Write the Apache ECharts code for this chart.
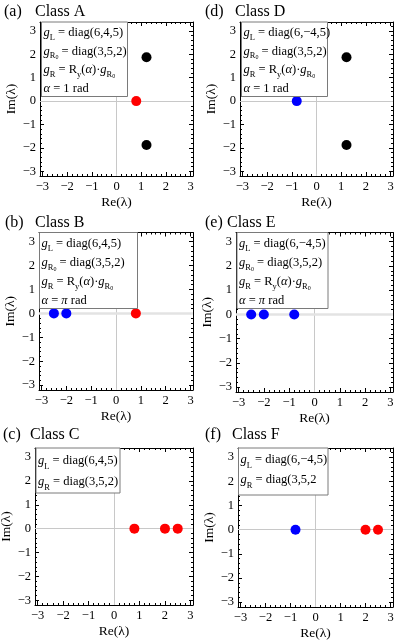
<!DOCTYPE html>
<html><head><meta charset="utf-8">
<script src="https://cdn.jsdelivr.net/npm/echarts@6/dist/echarts.min.js"></script>
<style>html,body{margin:0;padding:0;background:#fff}#c{width:399px;height:642px}</style>
</head><body><div id="c"></div>
<script>
// ---------- DATA ----------
const panelTags = ['(a)', '(b)', '(c)', '(d)', '(e)', '(f)'];
const classNames = ['Class A', 'Class B', 'Class C', 'Class D', 'Class E', 'Class F'];
const xTicks = [-3, -2, -1, 0, 1, 2, 3];
const yTicks = [-3, -2, -1, 0, 1, 2, 3];
const tickLabels = ['\u22123', '\u22122', '\u22121', '0', '1', '2', '3'];
const xLabel = 'Re(\u03bb)';
const yLabel = 'Im(\u03bb)';

// eigenvalues [Re, Im]
const aRed   = [[0.8, 0]];
const aBlack = [[1.2157, 1.8767], [1.2157, -1.8767]];
const bBlue  = [[-2.5, 0], [-2, 0]];
const bRed   = [[0.8, 0]];
const cRed   = [[0.8, 0], [2, 0], [2.5, 0]];
const dBlue  = [[-0.8, 0]];
const dBlack = [[1.2157, 1.8767], [1.2157, -1.8767]];
const eBlue  = [[-2.5, 0], [-2, 0], [-0.8, 0]];
const fBlue  = [[-0.8, 0]];
const fRed   = [[2, 0], [2.5, 0]];

// legend lines (rich text)
const legendA = ['{g|g}{s|L}{t| = diag(6,4,5)}', '{g|g}{s|R}{ss|0}{t| = diag(3,5,2)}', '{g|g}{s|R}{t| = R}{s|y}{t|(}{g|\u03b1}{t|)\u00b7}{g|g}{s|R}{ss|0}', '{g|\u03b1}{t| = 1 rad}'];
const legendB = ['{g|g}{s|L}{t| = diag(6,4,5)}', '{g|g}{s|R}{ss|0}{t| = diag(3,5,2)}', '{g|g}{s|R}{t| = R}{s|y}{t|(}{g|\u03b1}{t|)\u00b7}{g|g}{s|R}{ss|0}', '{g|\u03b1}{t| = }{g|\u03c0}{t| rad}'];
const legendC = ['{g|g}{s|L}{t| = diag(6,4,5)}', '{g|g}{s|R}{t| = diag(3,5,2)}'];
const legendD = ['{g|g}{s|L}{t| = diag(6,\u22124,5)}', '{g|g}{s|R}{ss|0}{t| = diag(3,5,2)}', '{g|g}{s|R}{t| = R}{s|y}{t|(}{g|\u03b1}{t|)\u00b7}{g|g}{s|R}{ss|0}', '{g|\u03b1}{t| = 1 rad}'];
const legendE = ['{g|g}{s|L}{t| = diag(6,\u22124,5)}', '{g|g}{s|R}{ss|0}{t| = diag(3,5,2)}', '{g|g}{s|R}{t| = R}{s|y}{t|(}{g|\u03b1}{t|)\u00b7}{g|g}{s|R}{ss|0}', '{g|\u03b1}{t| = }{g|\u03c0}{t| rad}'];
const legendF = ['{g|g}{s|L}{t| = diag(6,\u22124,5)}', '{g|g}{s|R}{t| = diag(3,5,2}'];

// ---------- LAYOUT ----------
const X_MIN = -3.1, X_MAX = 3.1, Y_MIN = -3.2, Y_MAX = 3.38;
const RED = '#ff0000', BLUE = '#0000ff', BLACK = '#000000';
const panels = [
  {col: 0, grid: {left: 40, top: 22, width: 153, height: 154}, tag: [4, 4], cls: [35, 4], box: [41.5, 22, 86, 74.5], lh: 18.5, t0: 1.5, legend: legendA, sets: [[aRed, RED], [aBlack, BLACK]], zw: 1},
  {col: 0, grid: {left: 39, top: 232.5, width: 154, height: 157.5}, tag: [5, 215], cls: [35, 215], box: [39.5, 232.5, 98, 76], lh: 19, t0: 1.5, legend: legendB, sets: [[bBlue, BLUE], [bRed, RED]], zw: 2.5},
  {col: 0, grid: {left: 35, top: 448, width: 158, height: 157}, tag: [3, 427], cls: [30, 427], box: [36, 448, 84, 45], lh: 21, t0: 2, legend: legendC, sets: [[cRed, RED]], zw: 1},
  {col: 200, grid: {left: 240, top: 22, width: 153, height: 154}, tag: [205, 4], cls: [235, 4], box: [241.5, 22, 86, 74.5], lh: 18.5, t0: 1.5, legend: legendD, sets: [[dBlue, BLUE], [dBlack, BLACK]], zw: 1},
  {col: 200, grid: {left: 236, top: 232.5, width: 157, height: 159.5}, tag: [205, 215], cls: [227, 215], box: [237, 232.5, 91, 76], lh: 19, t0: 1.5, legend: legendE, sets: [[eBlue, BLUE]], zw: 2.5},
  {col: 200, grid: {left: 238, top: 448, width: 155, height: 159}, tag: [205, 427], cls: [232, 427], box: [238.5, 448, 89.5, 47], lh: 20, t0: 2, legend: legendF, sets: [[fBlue, BLUE], [fRed, RED]], zw: 1}
];

const FONT = "'Liberation Serif', 'Times New Roman', serif";
const minorVals = [];
for (let k = -16; k <= 16; k++) { if (k % 5 !== 0) minorVals.push(k / 5); }
const fmt = v => { const i = xTicks.indexOf(Math.round(v)); return i >= 0 ? tickLabels[i] : ''; };

const rich = {
  t: {fontFamily: FONT, fontSize: 12.5, color: '#000', lineHeight: 18},
  g: {fontFamily: FONT, fontSize: 12.5, fontStyle: 'italic', color: '#000', lineHeight: 18},
  s: {fontFamily: FONT, fontSize: 8.5, color: '#000', lineHeight: 8, verticalAlign: 'bottom'},
  ss: {fontFamily: FONT, fontSize: 6, color: '#000', lineHeight: 4, verticalAlign: 'bottom'}
};

const grids = [], xAxes = [], yAxes = [], series = [], graphics = [];

panels.forEach((p, i) => {
  grids.push(Object.assign({containLabel: false, outerBoundsMode: 'none'}, p.grid));
  const common = {gridIndex: i, type: 'value', splitLine: {show: false}, axisPointer: {show: false}};
  const mkAxis = (dim, pos, vals, len, main) => Object.assign({}, common, {
    min: dim === 'x' ? X_MIN : Y_MIN, max: dim === 'x' ? X_MAX : Y_MAX,
    position: pos,
    axisLine: {show: main, onZero: false, lineStyle: {color: '#000', width: 1}},
    axisTick: {show: true, inside: true, length: len, customValues: vals, lineStyle: {color: '#000', width: 1}},
    axisLabel: {show: false}
  });
  const xi = xAxes.length, yi = yAxes.length;
  const xMain = mkAxis('x', 'bottom', xTicks, 4, true);
  xMain.axisLabel = {show: true, customValues: xTicks, formatter: fmt, fontFamily: FONT, fontSize: 12.5, color: '#000', margin: 4};
  xMain.name = xLabel; xMain.nameLocation = 'middle'; xMain.nameGap = 19;
  xMain.nameTextStyle = {fontFamily: FONT, fontSize: 13.5, color: '#000'};
  xAxes.push(xMain);
  xAxes.push(mkAxis('x', 'top', xTicks, 4, true));
  xAxes.push(mkAxis('x', 'bottom', minorVals, 2, false));
  xAxes.push(mkAxis('x', 'top', minorVals, 2, false));
  const yMain = mkAxis('y', 'left', yTicks, 4, true);
  yMain.axisLabel = {show: true, customValues: yTicks, formatter: fmt, fontFamily: FONT, fontSize: 12.5, color: '#000', margin: 4};
  yMain.name = yLabel; yMain.nameLocation = 'middle'; yMain.nameGap = p.grid.left - p.col - 19;
  yMain.nameTextStyle = {fontFamily: FONT, fontSize: 13.5, color: '#000'};
  yAxes.push(yMain);
  yAxes.push(mkAxis('y', 'right', yTicks, 4, true));
  yAxes.push(mkAxis('y', 'left', minorVals, 2, false));
  yAxes.push(mkAxis('y', 'right', minorVals, 2, false));

  // zero lines
  series.push({
    type: 'scatter', xAxisIndex: xi, yAxisIndex: yi, data: [], z: 1, silent: true,
    markLine: {silent: true, symbol: ['none', 'none'], label: {show: false}, animation: false,
      lineStyle: {color: '#c8c8c8', width: 1, type: 'solid'},
      data: [{xAxis: 0, lineStyle: {color: '#c8c8c8', width: 1, type: 'solid'}},
             {yAxis: 0, lineStyle: {color: p.zw > 1 ? '#e3e3e3' : '#c8c8c8', width: p.zw, type: 'solid'}}]}
  });
  p.sets.forEach(([d, col]) => {
    series.push({type: 'scatter', xAxisIndex: xi, yAxisIndex: yi, data: d, symbol: 'circle', symbolSize: 10,
      itemStyle: {color: col, opacity: 1}, z: 5, silent: true});
  });

  // titles
  graphics.push({type: 'text', x: p.tag[0], y: p.tag[1], z: 100, style: {text: panelTags[i], font: '16px ' + FONT, fill: '#000', verticalAlign: 'top', align: 'left'}});
  graphics.push({type: 'text', x: p.cls[0], y: p.cls[1], z: 100, style: {text: classNames[i], font: '16px ' + FONT, fill: '#000', verticalAlign: 'top', align: 'left'}});
  // legend box
  const [bx, by, bw, bh] = p.box;
  graphics.push({type: 'rect', z: 100, shape: {x: bx, y: by, width: bw, height: bh}, style: {fill: '#fff', stroke: '#7a7a7a', lineWidth: 1}});
  const r = JSON.parse(JSON.stringify(rich));
  r.t.lineHeight = p.lh; r.g.lineHeight = p.lh;
  graphics.push({type: 'text', z: 101, x: bx + 2, y: by + p.t0, style: {text: p.legend.join('\n'), rich: r, fill: '#000', font: '12.5px ' + FONT, verticalAlign: 'top', align: 'left'}});
});

const chart = echarts.init(document.getElementById('c'), null, {renderer: 'canvas'});
chart.setOption({
  animation: false,
  backgroundColor: '#fff',
  grid: grids, xAxis: xAxes, yAxis: yAxes, series: series, graphic: graphics
});
</script></body></html>
